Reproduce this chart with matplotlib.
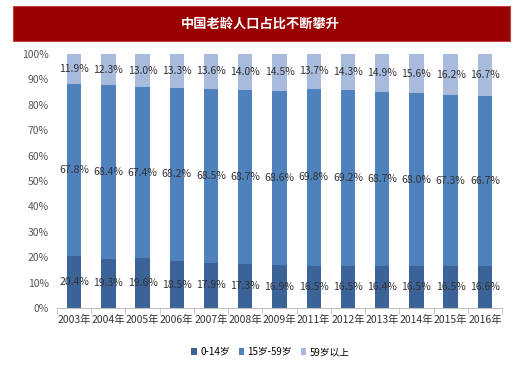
import matplotlib.pyplot as plt
import numpy as np
from matplotlib.patches import Rectangle

plt.rcParams['font.family'] = ['Noto Sans CJK SC', 'DejaVu Sans']

years = ['2003年', '2004年', '2005年', '2006年', '2007年', '2008年', '2009年',
         '2011年', '2012年', '2013年', '2014年', '2015年', '2016年']
age_0_14 = [20.4, 19.3, 19.6, 18.5, 17.9, 17.3, 16.9, 16.5, 16.5, 16.4, 16.5, 16.5, 16.6]
age_15_59 = [67.8, 68.4, 67.4, 68.2, 68.5, 68.7, 68.6, 69.8, 69.2, 68.7, 68.0, 67.3, 66.7]
age_60_up = [11.9, 12.3, 13.0, 13.3, 13.6, 14.0, 14.5, 13.7, 14.3, 14.9, 15.6, 16.2, 16.7]
series_names = ['0-14岁', '15岁-59岁', '59岁以上']
colors = ['#3c6398', '#4f81bd', '#a8bbdc']

fig = plt.figure(figsize=(5.2, 3.68), dpi=100)

# title banner
fig.patches.append(Rectangle((13 / 520, 1 - 41 / 368), 497 / 520, 35 / 368,
                             transform=fig.transFigure, facecolor='#990000',
                             edgecolor='#c04040', linewidth=0.8))
fig.text(0.5, 1 - 23.5 / 368, '中国老龄人口占比不断攀升', color='white',
         fontsize=9.5, fontweight='bold', ha='center', va='center')

ax = fig.add_axes([57 / 520, 1 - 308 / 368, 445 / 520, 254 / 368])

x = np.arange(len(years))
width = 0.42
bottoms = np.zeros(len(years))
for vals, name, color in zip([age_0_14, age_15_59, age_60_up], series_names, colors):
    vals = np.array(vals)
    ax.bar(x, vals, width, bottom=bottoms, color=color, label=name)
    for xi, b, v in zip(x, bottoms, vals):
        ax.text(xi, b + v / 2, f'{v:.1f}%', ha='center', va='center',
                fontsize=7.5, color='#333333')
    bottoms += vals

ax.set_xlim(-0.5, len(years) - 0.5)
ax.set_ylim(0, 100)
ax.set_yticks(np.arange(0, 101, 10))
ax.set_yticklabels([f'{v}%' for v in range(0, 101, 10)], fontsize=7.5, color='#555555')
ax.set_xticks(x)
ax.set_xticklabels(years, fontsize=7.5, color='#333333')
ax.set_xticks(np.arange(-0.5, len(years), 1), minor=True)
ax.tick_params(axis='x', which='major', length=0, pad=5)
ax.tick_params(axis='x', which='minor', length=4, color='#bfbfbf')
ax.tick_params(axis='y', length=0, pad=6)
for side in ['top', 'right', 'left']:
    ax.spines[side].set_visible(False)
ax.spines['bottom'].set_color('#bfbfbf')

fig.legend(loc='center', bbox_to_anchor=(0.52, 1 - 352 / 368), ncol=3,
           frameon=False, fontsize=7, handlelength=0.6, handleheight=0.6,
           handletextpad=0.3, columnspacing=0.9)

fig.savefig('out.png', dpi=100)
